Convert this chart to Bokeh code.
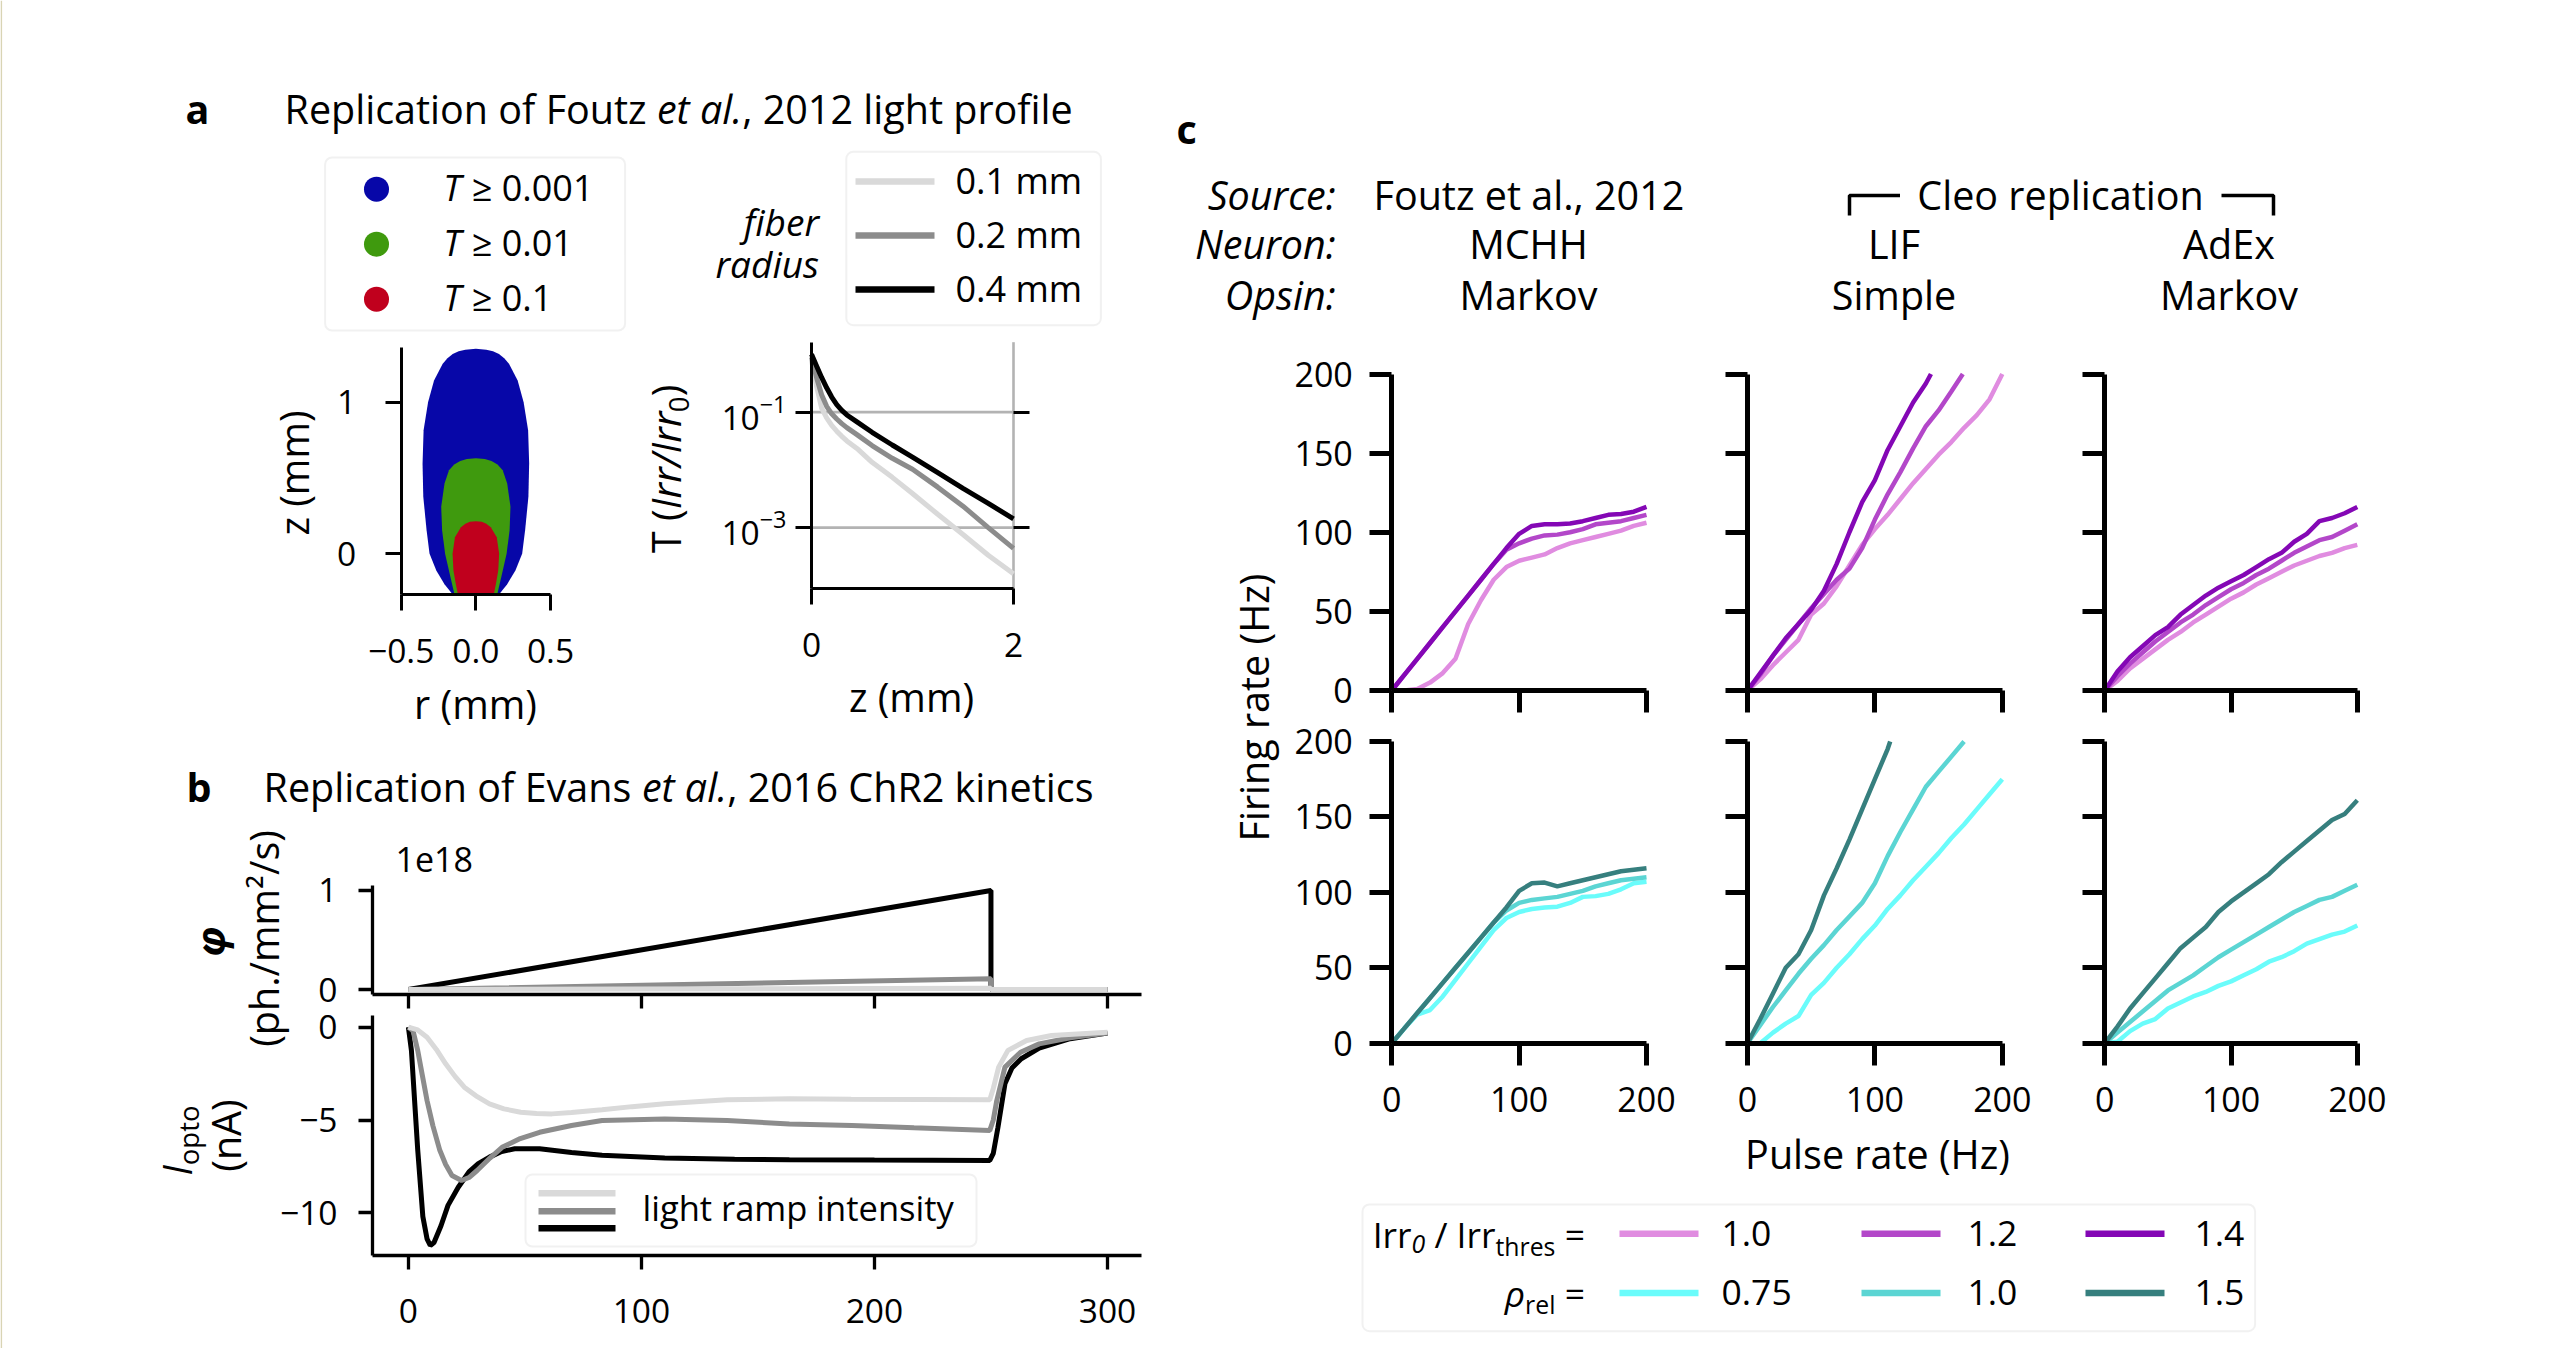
import numpy as np
from math import log10, cos, sin, pi
from bokeh.plotting import figure
from bokeh.models import (Range1d, LinearAxis, LogAxis, LogScale, FixedTicker,
                          Label, BoxAnnotation, Span, Grid)
from bokeh.embed import file_html
from bokeh.resources import INLINE

# ======================= DATA =======================
# --- panel a: light-profile contours (z in mm, half width r in mm)
blue_z = [-0.268, -0.2, -0.11, 0.0, 0.156, 0.377, 0.596, 0.815, 1.0, 1.144, 1.254, 1.29, 1.318, 1.336, 1.347, 1.352]
blue_r = [0.155, 0.21, 0.265, 0.31, 0.33, 0.352, 0.357, 0.35, 0.32, 0.28, 0.222, 0.19, 0.155, 0.115, 0.07, 0.0]
green_z = [-0.268, -0.154, 0.0, 0.156, 0.31, 0.464, 0.552, 0.59, 0.613, 0.626, 0.631]
green_r = [0.143, 0.17, 0.206, 0.226, 0.232, 0.21, 0.18, 0.145, 0.105, 0.06, 0.0]
red_z = [-0.268, -0.2, -0.11, 0.0, 0.11, 0.176, 0.198, 0.211, 0.215]
red_r = [0.12, 0.134, 0.15, 0.156, 0.14, 0.1, 0.07, 0.04, 0.0]
contour_labels = ["0.001", "0.01", "0.1"]
contour_colors = ["#0707a8", "#3f9a0e", "#c0001d"]

# --- panel a: transmittance vs depth (log10 T)
depth_mm = [0, 0.05, 0.1, 0.15, 0.2, 0.25, 0.3, 0.35, 0.45, 0.6, 0.8, 1.0, 1.25, 1.5, 1.75, 2.0]
logT_r01 = [-0.1, -0.55, -0.93, -1.1, -1.23, -1.33, -1.42, -1.5, -1.63, -1.87, -2.13, -2.41, -2.77, -3.12, -3.48, -3.8]
logT_r02 = [-0.05, -0.4, -0.7, -0.9, -1.03, -1.12, -1.2, -1.27, -1.39, -1.58, -1.8, -1.99, -2.3, -2.63, -3.0, -3.36]
logT_r04 = [0.0, -0.2, -0.4, -0.58, -0.74, -0.87, -0.97, -1.05, -1.17, -1.35, -1.57, -1.78, -2.05, -2.32, -2.58, -2.85]
radius_labels = ["0.1 mm", "0.2 mm", "0.4 mm"]
gray_colors = ["#d9d9d9", "#8c8c8c", "#000000"]

# --- panel b: light ramps (phi in units of 1e18 ph./mm2/s) and opsin current (nA)
ramp_t = [0, 250, 250, 300]
phi_low = [0, 0.012, 0, 0]
phi_mid = [0, 0.11, 0, 0]
phi_high = [0, 1.0, 0, 0]
t_high = [0, 1.3, 4, 6.2, 8, 9.4, 11, 14, 17, 21.4, 26, 30, 34.8, 40, 45.6, 56.3, 70, 83.1, 110,
          140, 163.5, 200, 249.5, 251, 253, 256, 259, 263, 270.7, 284, 300]
I_high = [0, -1.25, -6.6, -10.2, -11.4, -11.76, -11.6, -10.7, -9.6, -8.62, -7.8, -7.35, -7.0, -6.7,
          -6.55, -6.55, -6.75, -6.9, -7.05, -7.12, -7.14, -7.16, -7.18, -6.8, -5.4, -3.05, -2.2,
          -1.7, -1.12, -0.62, -0.32]
t_mid = [0, 2, 4, 6, 8, 10.5, 13.4, 16, 18.7, 22.8, 26, 29.5, 35, 40.2, 48, 56.3, 70, 83.1, 110,
         136.8, 163.5, 190.3, 217, 249.5, 251, 252.5, 256, 262.7, 270.7, 284, 300]
I_mid = [0, -0.2, -1.25, -2.6, -3.95, -5.3, -6.6, -7.4, -7.99, -8.26, -8.1, -7.72, -7.05, -6.47,
         -6.0, -5.66, -5.3, -5.03, -4.94, -5.03, -5.21, -5.3, -5.42, -5.56, -5.0, -3.95, -2.15,
         -1.35, -0.9, -0.57, -0.32]
t_low = [0, 4, 8, 12, 16, 20, 24, 29, 34.8, 41, 48.2, 55, 61.6, 70, 83.1, 96, 110, 136.8, 163.5,
         190, 249.5, 251, 253.3, 257.3, 265.3, 276, 300]
I_low = [0, -0.15, -0.54, -1.2, -1.97, -2.65, -3.23, -3.7, -4.13, -4.4, -4.58, -4.65, -4.67, -4.6,
         -4.45, -4.28, -4.13, -3.91, -3.86, -3.88, -3.91, -3.3, -2.15, -1.25, -0.72, -0.45, -0.27]

# --- panel c: firing rate (Hz) vs pulse rate (Hz)
rate_hz = list(range(0, 201, 10))
mchh_irr10 = [0, 0, 1, 5, 11, 20, 42, 57, 70, 78, 82, 84, 86, 90, 93, 95, 97, 99, 101, 104, 106]
mchh_irr12 = [0, 10, 20, 30, 40, 50, 60, 70, 80, 89, 93, 96, 98, 98.5, 100, 102, 105, 106, 107, 109, 111]
mchh_irr14 = [0, 10, 20, 30, 40, 50, 60, 70, 80, 90, 99, 104, 105, 105, 105.5, 107, 109, 111, 111.5, 113, 116]
lif_irr10 = [0, 7, 16, 24, 32, 48, 55, 66, 79, 92, 102, 111, 121, 131, 140, 149, 157, 166, 174, 184, 200]
lif_irr12_x = [0, 10, 20, 30, 40, 50, 60, 70, 80, 90, 100, 110, 120, 130, 140, 150, 160, 169]
lif_irr12 = [0, 10, 22, 32, 42, 52, 61, 70, 77, 90, 108, 124, 138, 153, 167, 177, 189, 200]
lif_irr14_x = [0, 10, 20, 30, 40, 50, 60, 70, 80, 90, 100, 110, 120, 130, 140, 144]
lif_irr14 = [0, 11, 22, 33, 42, 51, 63, 80, 100, 119, 133, 152, 167, 182, 194, 200]
adex_irr10 = [0, 6, 14, 20, 26, 32, 37, 43, 48, 53, 58, 62, 67, 71, 75, 79, 82, 85, 87, 90, 92]
adex_irr12 = [0, 9, 17, 24, 31, 37, 43, 48, 54, 59, 64, 68, 73, 77, 82, 87, 91, 95, 97, 101, 105]
adex_irr14 = [0, 12, 21, 28, 35, 40, 48, 54, 60, 65, 69, 73, 78, 83, 87, 94, 99, 107, 109, 112, 116]
mchh_rho075 = [0, 10, 19, 22, 31, 42, 53, 64, 75, 83, 87, 89, 90, 90.5, 93, 97, 97.5, 99, 102, 106, 107]
mchh_rho10 = [0, 10, 20, 30, 40, 50, 60, 70, 80, 88, 93, 95, 96, 97, 99, 101, 104, 106, 108, 109, 110]
mchh_rho15 = [0, 10, 20, 30, 40, 50, 60, 70, 80, 90, 101, 106, 106.5, 104, 106, 108, 110, 112, 114, 115, 116]
lif_rho075 = [0, 0, 7, 13, 18, 32, 40, 50, 59, 69, 78, 89, 98, 108, 117, 126, 136, 145, 155, 165, 175]
lif_rho10_x = [0, 10, 20, 30, 40, 50, 60, 70, 80, 90, 100, 110, 120, 130, 140, 150, 160, 170]
lif_rho10 = [0, 12, 24, 35, 46, 56, 65, 75, 84, 93, 106, 124, 140, 155, 170, 180, 190, 200]
lif_rho15_x = [0, 10, 20, 30, 40, 50, 60, 70, 80, 90, 100, 110, 112]
lif_rho15 = [0, 16, 33, 50, 59, 75, 98, 116, 135, 155, 175, 195, 200]
adex_rho075 = [0, 1, 8, 13, 16, 23, 27, 31, 34, 38, 41, 45, 49, 54, 57, 61, 66, 69, 72, 74, 78]
adex_rho10 = [0, 7, 14, 21, 28, 35, 40, 45, 51, 57, 62, 67, 72, 77, 82, 87, 91, 95, 97, 101, 105]
adex_rho15 = [0, 11, 23, 33, 43, 53, 63, 70, 77, 87, 94, 100, 106, 112, 120, 127, 134, 141, 148, 152, 161]
irr_labels = ["1.0", "1.2", "1.4"]
rho_labels = ["0.75", "1.0", "1.5"]
irr_colors = ["#e08ce0", "#b347c9", "#8407b5"]
rho_colors = ["#6afcfb", "#5bd5d3", "#367f7e"]
col_neuron = ["MCHH", "LIF", "AdEx"]
col_opsin = ["Markov", "Simple", "Markov"]

# ======================= PAGE =======================
W, H = 2566, 1348
FONT = "Open Sans"
p = figure(width=W, height=H, output_backend="svg", toolbar_location=None,
           x_range=Range1d(0, W), y_range=Range1d(H, 0),
           x_axis_location=None, y_axis_location=None, min_border=0,
           outline_line_color=None)
p.background_fill_color = "white"
p.border_fill_color = "white"
for r in list(p.center) + list(p.renderers):
    if isinstance(r, Grid):
        r.visible = False
p.center = [r for r in p.center if not isinstance(r, Grid)]

ADV = {' ': 532, '(': 606, ')': 606, ',': 502, '-': 659, '.': 545, '/': 752, ':': 545, '=': 1171,
       '≥': 1171, '²': 745, '−': 1171,
       'A': 1296, 'B': 1327, 'C': 1292, 'D': 1493, 'E': 1139, 'F': 1057, 'G': 1491, 'H': 1511,
       'I': 571, 'J': 547, 'K': 1257, 'L': 1073, 'M': 1849, 'N': 1544, 'O': 1595, 'P': 1233,
       'R': 1266, 'S': 1124, 'T': 1133,
       'a': 1139, 'b': 1255, 'c': 975, 'd': 1255, 'e': 1149, 'f': 694, 'g': 1122, 'h': 1257,
       'i': 518, 'j': 518, 'k': 1075, 'l': 518, 'm': 1905, 'n': 1257, 'o': 1237, 'p': 1255,
       'q': 1255, 'r': 836, 's': 977, 't': 723, 'u': 1257, 'v': 1026, 'w': 1593, 'x': 1073,
       'y': 1028, 'z': 954, 'ρ': 1230, 'φ': 1500}
for d in "0123456789":
    ADV[d] = 1171

BASE_FIX = 0.38   # measured offset of the rendered baseline, in em


def tw(s, size, style="normal"):
    w = sum(ADV.get(ch, 1150) for ch in s) / 2048.0 * size
    if "italic" in style:
        w *= 0.96
    if "bold" in style:
        w *= 1.06
    return w


def lab(x, y, text, size, style="normal", align="left", angle=0.0, baseline="alphabetic"):
    d = BASE_FIX * size
    x -= sin(angle) * d
    y -= cos(angle) * d
    p.add_layout(Label(x=x, y=y, text=text, text_font=FONT, text_font_size="%.1fpx" % size,
                       text_font_style=style, text_align=align, text_baseline=baseline,
                       angle=angle, text_color="black"))


def rich(x, y, parts, size, align="left", angle=0.0):
    # parts: (text, style, scale, shift_down)
    widths = [tw(t, size * sc, st) for t, st, sc, sh in parts]
    total = sum(widths)
    pos = {"left": 0.0, "center": -total / 2.0, "right": -total}[align]
    ux, uy = cos(angle), -sin(angle)
    nx, ny = sin(angle), cos(angle)
    for (t, st, sc, sh), w in zip(parts, widths):
        lead = len(t) - len(t.lstrip(' '))
        q = pos + tw(' ' * lead, size * sc, st)
        if t.strip():
            lab(x + ux * q + nx * sh, y + uy * q + ny * sh, t.strip(' '), size * sc, st, "left", angle)
        pos += w


def sub(name, pxr, dxr, pyr, dyr, ylog=False):
    px0, px1 = pxr
    d0, d1 = dxr
    sx = (d1 - d0) / (px1 - px0)
    p.extra_x_ranges[name] = Range1d(d0 - px0 * sx, d0 + (W - px0) * sx)
    pyt, pyb = pyr
    lo, hi = dyr
    if ylog:
        lo, hi = log10(lo), log10(hi)
    sy = (hi - lo) / (pyb - pyt)
    s, e = lo - (H - pyb) * sy, lo + pyb * sy
    if ylog:
        p.extra_y_scales[name] = LogScale()
        s, e = 10 ** s, 10 ** e
    p.extra_y_ranges[name] = Range1d(s, e)


def axis(side, name, loc, bounds, ticks, lw, tl, fs, so, show=True, overrides=None, log=False,
         line=True):
    cls = LogAxis if log else LinearAxis
    ax = cls(x_range_name=name, y_range_name=name, fixed_location=loc, bounds=bounds,
             ticker=FixedTicker(ticks=ticks))
    ax.axis_line_width = lw
    ax.axis_line_color = "black" if line else None
    ax.major_tick_line_width = lw
    ax.major_tick_line_color = "black"
    ax.major_tick_out = tl
    ax.major_tick_in = 0
    ax.minor_tick_line_color = None
    ax.major_label_text_font = FONT
    ax.major_label_text_font_size = "%.1fpx" % fs
    ax.major_label_standoff = so
    ax.major_label_text_color = "black" if show else None
    if overrides:
        ax.major_label_overrides = overrides
    p.add_layout(ax, side)


def box(l, t, r, b):
    p.add_layout(BoxAnnotation(left=l, right=r, top=t, bottom=b, fill_color="white", fill_alpha=0.85,
                               line_color="#cfcfcf", line_width=2, border_radius=7,
                               level="underlay"))


p.add_layout(Span(location=0.8, dimension="height", line_color="#d9d4b4", line_width=1.6))

TITLE = 39.5
LABEL = 39.5
TICK = 33.5

# ======================= PANEL a =======================
lab(185, 123.5, "a", TITLE, "bold")
rich(284, 123.7, [("Replication of Foutz ", "normal", 1, 0), ("et al.", "italic", 1, 0),
                  (", 2012 light profile", "normal", 1, 0)], TITLE)

# contour plot
sub("ca", (400.7, 550.0), (-0.5, 0.5), (346.7, 594.0), (-0.268, 1.363))
for zz, rr, col in [(blue_z, blue_r, contour_colors[0]), (green_z, green_r, contour_colors[1]),
                    (red_z, red_r, contour_colors[2])]:
    rr = np.array(rr)
    p.harea(y=zz, x1=-rr, x2=rr, fill_color=col, x_range_name="ca", y_range_name="ca")
axis("left", "ca", -0.5, (-0.268, 1.363), [0, 1], 3, 16, TICK, 29)
axis("below", "ca", -0.268, (-0.5, 0.5), [-0.5, 0, 0.5], 3, 16, TICK, 28,
     overrides={-0.5: "−0.5", 0: "0.0", 0.5: "0.5"})
lab(309, 472.5, "z (mm)", LABEL, angle=pi / 2, align="center")
lab(475, 719, "r (mm)", LABEL, align="center")

# contour legend
box(324.6, 157, 624.6, 330)
leg_rows = [188.7, 243.7, 298.7]
p.scatter(x=[376] * 3, y=leg_rows, size=25, color=contour_colors, line_color=None)
for yy, txt in zip(leg_rows, contour_labels):
    rich(442.8, yy + 11.5, [("T", "italic", 1, 0), (" ≥ " + txt, "normal", 1, 0)], 36)

# transmittance plot
Tlo, Thi = 10 ** -4.06, 10 ** 0.21
sub("la", (811.0, 1013.0), (0, 2), (341.7, 588.3), (Tlo, Thi), ylog=True)
p.segment(x0=[0, 0, 2], x1=[2, 2, 2], y0=[1e-3, 1e-1, Tlo], y1=[1e-3, 1e-1, Thi],
          line_color="#b3b3b3", line_width=2.6, x_range_name="la", y_range_name="la")
for ys, col in zip([logT_r01, logT_r02, logT_r04], gray_colors):
    p.line(depth_mm, 10 ** np.array(ys), line_color=col, line_width=5,
           x_range_name="la", y_range_name="la")
axis("left", "la", 0, (Tlo, Thi), [1e-3, 1e-1], 3, 16, TICK, 9, log=True)
axis("right", "la", 2, (Tlo, Thi), [1e-3, 1e-1], 3, 16, TICK, 9, show=False, log=True, line=False)
axis("below", "la", Tlo, (0, 2), [0, 2], 3, 16, TICK, 28)
rich(681, 468.3, [("T (", "normal", 1, 0), ("Irr/Irr", "italic", 1, 0), ("0", "normal", 0.7, 8),
                  (")", "normal", 1, 0)], LABEL, align="center", angle=pi / 2)
lab(911, 712, "z (mm)", LABEL, align="center")

# radius legend
lab(818.5, 235.3, "fiber", 37, "italic", align="right")
lab(818.5, 277.5, "radius", 37, "italic", align="right")
box(845.8, 151.3, 1100.4, 324.7)
rad_rows = [181.0, 235.0, 289.0]
p.segment(x0=[855] * 3, x1=[934] * 3, y0=rad_rows, y1=rad_rows, line_color=gray_colors, line_width=6.5)
for yy, txt in zip(rad_rows, radius_labels):
    lab(955, yy + 12.3, txt, 36)

# ======================= PANEL b =======================
lab(186, 801.7, "b", TITLE, "bold")
rich(263, 801.7, [("Replication of Evans ", "normal", 1, 0), ("et al.", "italic", 1, 0),
                  (", 2016 ChR2 kinetics", "normal", 1, 0)], TITLE)
sub("ph", (372.0, 1141.0), (-15.4, 314.6), (885.0, 994.0), (-0.05, 1.05))
sub("io", (372.0, 1141.0), (-15.4, 314.6), (1015.0, 1255.0), (-12.3, 0.63))
for ys, col in zip([phi_high, phi_mid, phi_low], gray_colors[::-1]):
    p.line(ramp_t, ys, line_color=col, line_width=5, x_range_name="ph", y_range_name="ph")
for xs, ys, col in zip([t_high, t_mid, t_low], [I_high, I_mid, I_low], gray_colors[::-1]):
    p.line(xs, ys, line_color=col, line_width=5, x_range_name="io", y_range_name="io")
axis("left", "ph", -15.4, (-0.05, 1.05), [0, 1], 3.3, 14, TICK, 21)
axis("below", "ph", -0.05, (-15.4, 314.6), [0, 100, 200, 300], 3.3, 14, TICK, 20, show=False)
axis("left", "io", -15.4, (-12.3, 0.63), [-10, -5, 0], 3.3, 14, TICK, 21,
     overrides={-10: "−10", -5: "−5", 0: "0"})
axis("below", "io", -12.3, (-15.4, 314.6), [0, 100, 200, 300], 3.3, 14, TICK, 29)
lab(395, 871.7, "1e18", 34)
lab(225, 941, "φ", LABEL, "bold italic", align="center", angle=pi / 2)
lab(279, 938, "(ph./mm²/s)", LABEL, align="center", angle=pi / 2)
rich(191.7, 1140, [("I", "italic", 1, 0), ("opto", "normal", 0.7, 6.5)], LABEL, align="center",
     angle=pi / 2)
lab(240.5, 1135, "(nA)", LABEL, align="center", angle=pi / 2)
# ramp legend
box(525, 1174, 976, 1246)
ramp_rows = [1192.7, 1210.7, 1227.7]
p.segment(x0=[538] * 3, x1=[615] * 3, y0=ramp_rows, y1=ramp_rows, line_color=gray_colors, line_width=6.5)
lab(642, 1220, "light ramp intensity", 34.5)

# ======================= PANEL c =======================
lab(1176, 143.3, "c", TITLE, "bold")
for yy, txt in zip([210, 258.3, 309.3], ["Source:", "Neuron:", "Opsin:"]):
    lab(1335.2, yy, txt, LABEL, "italic", align="right")
lab(1373, 210, "Foutz et al., 2012", LABEL)
lab(2060, 210, "Cleo replication", LABEL, align="center")
p.line([1849, 1849, 1899.5], [215, 195, 195], line_color="black", line_width=3.5)
p.line([2221, 2273, 2273], [195, 195, 215], line_color="black", line_width=3.5)
col_centers = [1528.0, 1893.5, 2228.5]
for cx, nn, oo in zip(col_centers, col_neuron, col_opsin):
    lab(cx, 258.3, nn, LABEL, align="center")
    lab(cx, 309.3, oo, LABEL, align="center")

cols = [(1391.3, 1646.0), (1747.0, 2001.8), (2104.3, 2356.8)]
rows = [(373.5, 690.0), (741.0, 1042.7)]
grid_series = [
    [[(rate_hz, mchh_irr10), (rate_hz, mchh_irr12), (rate_hz, mchh_irr14)],
     [(rate_hz, lif_irr10), (lif_irr12_x, lif_irr12), (lif_irr14_x, lif_irr14)],
     [(rate_hz, adex_irr10), (rate_hz, adex_irr12), (rate_hz, adex_irr14)]],
    [[(rate_hz, mchh_rho075), (rate_hz, mchh_rho10), (rate_hz, mchh_rho15)],
     [(rate_hz, lif_rho075), (lif_rho10_x, lif_rho10), (lif_rho15_x, lif_rho15)],
     [(rate_hz, adex_rho075), (rate_hz, adex_rho10), (rate_hz, adex_rho15)]],
]
for ri, (pyr, colors) in enumerate(zip(rows, [irr_colors, rho_colors])):
    for ci, pxr in enumerate(cols):
        nm = "c%d%d" % (ri, ci)
        sub(nm, pxr, (0, 200), pyr, (0, 200))
        for (xs, ys), col in zip(grid_series[ri][ci], colors):
            p.line(xs, ys, line_color=col, line_width=4.5, x_range_name=nm, y_range_name=nm)
        axis("left", nm, 0, (0, 200), [0, 50, 100, 150, 200], 5, 22, 34, 17, show=(ci == 0))
        axis("below", nm, 0, (0, 200), [0, 100, 200], 5, 22, 34, 22, show=(ri == 1))
lab(1269, 707, "Firing rate (Hz)", LABEL, align="center", angle=pi / 2)
lab(1877, 1168.3, "Pulse rate (Hz)", LABEL, align="center")

# footer legend
box(1362, 1204, 2254.6, 1330.7)
LEGC = 35.5
leg_y = [1233.3, 1292.5]
rich(1584.5, 1246.7, [("Irr", "normal", 1, 0), ("0", "italic", 0.7, 6), (" / Irr", "normal", 1, 0),
                      ("thres", "normal", 0.7, 8), (" =", "normal", 1, 0)], LEGC, align="right")
rich(1584.5, 1305.5, [("ρ", "italic", 1, 0), ("rel", "normal", 0.7, 7), (" =", "normal", 1, 0)],
     LEGC, align="right")
line_x0 = [1619, 1861, 2085]
text_x = [1721, 1967, 2194]
for yy, colors, labels in zip(leg_y, [irr_colors, rho_colors], [irr_labels, rho_labels]):
    p.segment(x0=line_x0, x1=[x + 79 for x in line_x0], y0=[yy] * 3, y1=[yy] * 3,
              line_color=colors, line_width=6.5)
    for tx, tt in zip(text_x, labels):
        lab(tx, yy + 13.0, tt, LEGC)

open("out.html", "w").write(file_html(p, INLINE))
